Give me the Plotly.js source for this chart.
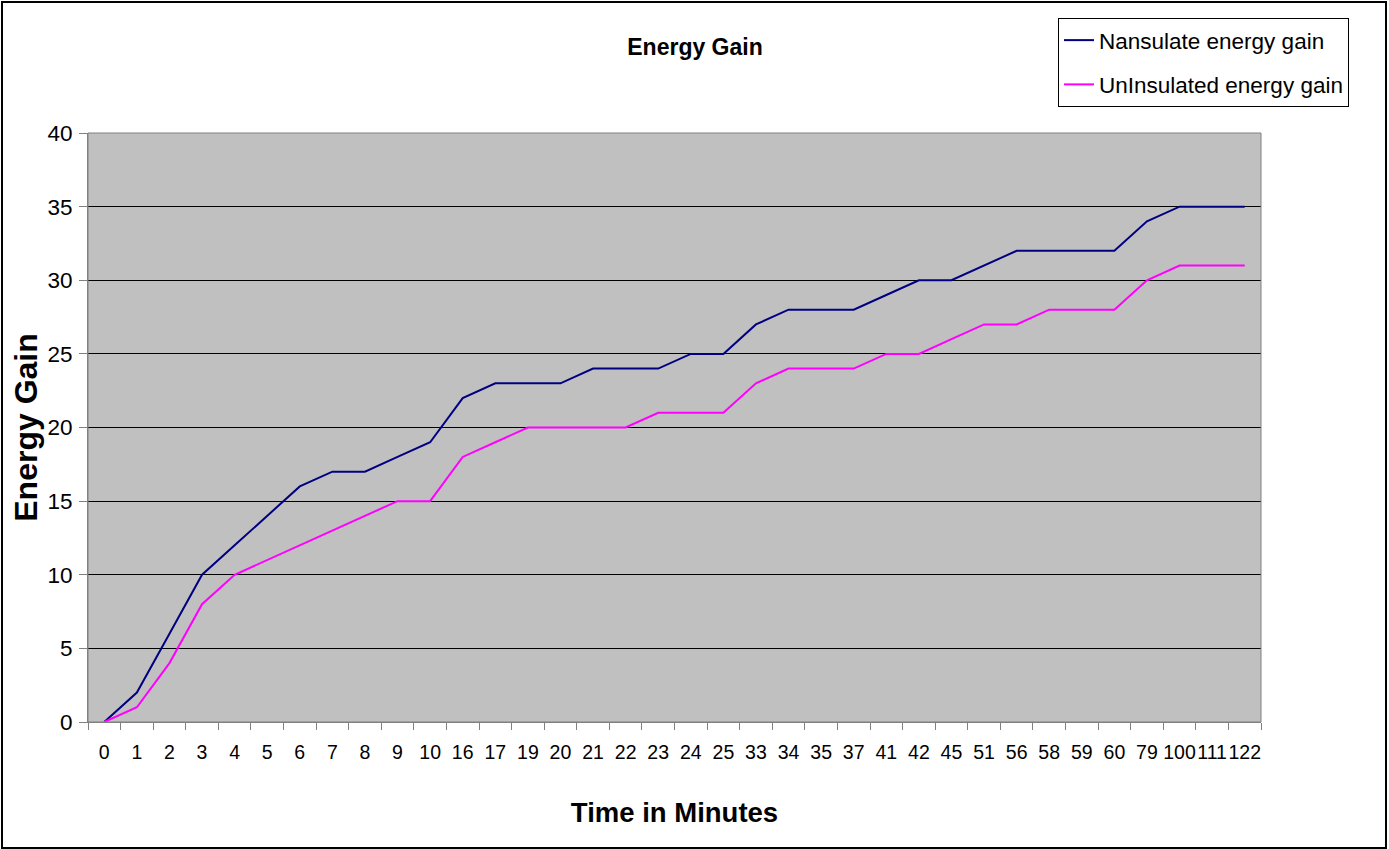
<!DOCTYPE html>
<html>
<head>
<meta charset="utf-8">
<script src="https://cdn.plot.ly/plotly-3.0.1.min.js"></script>
<style>
html,body{margin:0;padding:0;background:#fff;}
#wrap{position:relative;width:1389px;height:849px;}
#chart{width:1389px;height:849px;}
#frame{position:absolute;left:1px;top:1px;width:1382px;height:844px;border:2px solid #000;pointer-events:none;}
</style>
</head>
<body>
<div id="wrap"><div id="chart"></div><div id="frame"></div></div>
<script>
const minutes = ["0","1","2","3","4","5","6","7","8","9","10","16","17","19","20","21","22","23","24","25","33","34","35","37","41","42","45","51","56","58","59","60","79","100","111","122"];
const insulated = [0,2,6,10,12,14,16,17,17,18,19,22,23,23,23,24,24,24,25,25,27,28,28,28,29,30,30,31,32,32,32,32,34,35,35,35];
const uninsulated = [0,1,4,8,10,11,12,13,14,15,15,18,19,20,20,20,20,21,21,21,23,24,24,24,25,25,26,27,27,28,28,28,30,31,31,31];
const seriesNames = ["Nansulate energy gain","UnInsulated energy gain"];

const traces = [
  {x: minutes, y: insulated, name: seriesNames[0], type: 'scatter', mode: 'lines',
   legendgroup: 'a', line: {color: '#000080', width: 2}},
  {x: minutes, y: uninsulated, name: seriesNames[1], type: 'scatter', mode: 'lines',
   legendgroup: 'b', line: {color: '#FF00FF', width: 2}}
];

const layout = {
  width: 1389, height: 849,
  margin: {l: 88, r: 128, t: 133, b: 127},
  paper_bgcolor: '#ffffff',
  plot_bgcolor: '#C0C0C0',
  font: {family: 'Arial, "Liberation Sans", sans-serif', color: '#000'},
  title: {text: '<b>Energy Gain</b>', font: {size: 23, color: '#000'},
          x: 695/1389, xanchor: 'center', y: 1 - 47/849, yanchor: 'middle', yref: 'container'},
  showlegend: true,
  legend: {x: (1058-88)/1173, y: 1 + (133-18)/589, xanchor: 'left', yanchor: 'top',
           bordercolor: '#000', borderwidth: 1, bgcolor: '#fff',
           traceorder: 'grouped', tracegroupgap: 12,
           font: {size: 22.5, color: '#000'}},
  xaxis: {
    type: 'category', range: [-0.5, 35.5],
    title: {text: '<b>Time in Minutes</b>', font: {size: 27.5}, standoff: 40},
    tickfont: {size: 19.5}, tickangle: 0, ticklabelstandoff: 13,
    ticks: 'outside', tickson: 'boundaries', ticklen: 7, tickcolor: '#808080',
    showline: true, linecolor: '#808080', linewidth: 1,
    showgrid: false, zeroline: false, automargin: false, fixedrange: true
  },
  yaxis: {
    range: [0, 40], dtick: 5, tick0: 0,
    title: {text: '<b>Energy Gain</b>', font: {size: 32}, standoff: 0},
    tickfont: {size: 22.5}, ticklabelstandoff: 2,
    ticks: 'outside', ticklen: 8, tickcolor: '#808080',
    showline: true, linecolor: '#808080', linewidth: 1,
    showgrid: true, gridcolor: '#000', gridwidth: 1,
    zeroline: false, automargin: false, fixedrange: true
  },
  shapes: [
    {type: 'rect', xref: 'paper', yref: 'paper', x0: 0, x1: 1, y0: 0, y1: 1,
     line: {color: '#808080', width: 1}, layer: 'above'}
  ]
};

Plotly.newPlot('chart', traces, layout, {displayModeBar: false, staticPlot: true});
</script>
</body>
</html>
